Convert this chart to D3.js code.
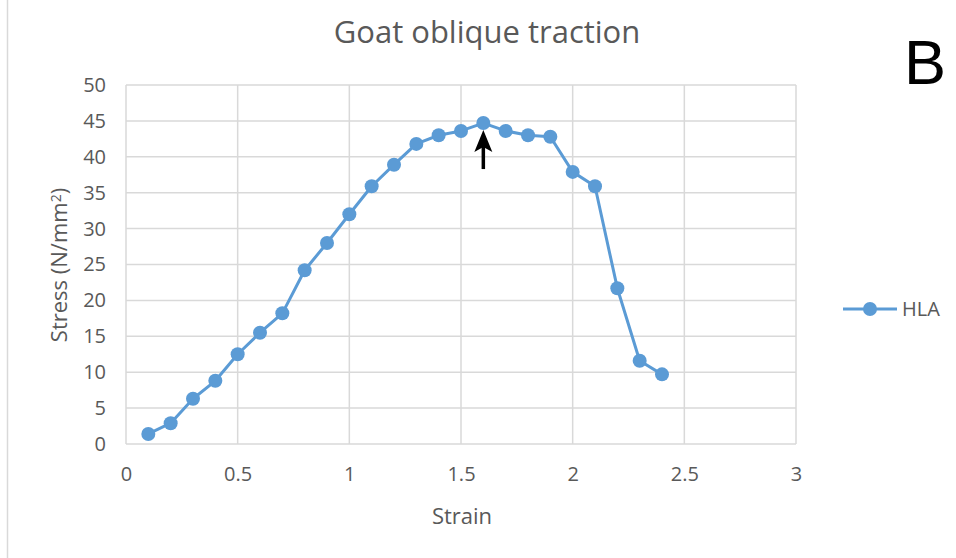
<!DOCTYPE html>
<html lang="en">
<head>
    <meta charset="UTF-8">
    <title>Goat oblique traction</title>
    <script src="https://d3js.org/d3.v7.min.js"></script>
    <style>
        body { margin: 0; background: #fff; }
        text { font-family: "Open Sans", "Noto Sans", sans-serif; }
    </style>
</head>
<body>
<svg width="956" height="558"></svg>
<script>
    // data
    const strain = [0.1, 0.2, 0.3, 0.4, 0.5, 0.6, 0.7, 0.8, 0.9, 1.0, 1.1, 1.2,
                    1.3, 1.4, 1.5, 1.6, 1.7, 1.8, 1.9, 2.0, 2.1, 2.2, 2.3, 2.4];
    const stress = [1.4, 2.9, 6.3, 8.8, 12.5, 15.5, 18.2, 24.2, 28.0, 32.0, 35.9, 38.9,
                    41.8, 43.0, 43.6, 44.7, 43.6, 43.0, 42.8, 37.9, 35.9, 21.7, 11.6, 9.7];
    const xTicks = [0, 0.5, 1, 1.5, 2, 2.5, 3];
    const yTicks = [0, 5, 10, 15, 20, 25, 30, 35, 40, 45, 50];
    const peakStrain = 1.6;
    const seriesName = "HLA";

    const svg = d3.select("svg");
    const blue = "#5b9bd5";
    const grid = "#d9d9d9";
    const tickCol = "#595959";

    const x = d3.scaleLinear().domain([0, 3]).range([126, 796]);
    const y = d3.scaleLinear().domain([0, 50]).range([444, 85]);

    // left frame line
    svg.append("line").attr("x1", 7.5).attr("x2", 7.5).attr("y1", 0).attr("y2", 558)
        .attr("stroke", "#d9d9d9").attr("stroke-width", 1.5);

    // gridlines
    svg.append("g").selectAll("line").data(yTicks).enter().append("line")
        .attr("x1", x(0)).attr("x2", x(3))
        .attr("y1", d => y(d)).attr("y2", d => y(d))
        .attr("stroke", grid).attr("stroke-width", 1.5);
    svg.append("g").selectAll("line").data(xTicks).enter().append("line")
        .attr("x1", d => x(d)).attr("x2", d => x(d))
        .attr("y1", y(0)).attr("y2", y(50))
        .attr("stroke", grid).attr("stroke-width", 1.5);

    // axes (labels only)
    const xAxis = svg.append("g").attr("transform", `translate(0,${y(0)})`)
        .call(d3.axisBottom(x).tickValues(xTicks).tickSize(0).tickPadding(23).tickFormat(d3.format("")));
    const yAxis = svg.append("g").attr("transform", `translate(${x(0)},0)`)
        .call(d3.axisLeft(y).tickValues(yTicks).tickSize(0).tickPadding(20));
    [xAxis, yAxis].forEach(a => {
        a.select(".domain").remove();
        a.selectAll("text").attr("fill", tickCol).style("font-size", "20px")
            .style("font-family", "'Open Sans', sans-serif");
    });

    // titles
    svg.append("text").attr("x", 487).attr("y", 43).attr("text-anchor", "middle")
        .attr("fill", tickCol).style("font-size", "31px").text("Goat oblique traction");
    svg.append("text").attr("x", 925).attr("y", 84).attr("text-anchor", "middle")
        .attr("fill", "#000").style("font-size", "63px").style("font-family", "'Liberation Sans', sans-serif")
        .text("B");
    svg.append("text").attr("x", 462).attr("y", 524).attr("text-anchor", "middle")
        .attr("fill", tickCol).style("font-size", "22px").text("Strain");
    const yl = svg.append("text").attr("transform", "translate(67,265) rotate(-90)")
        .attr("text-anchor", "middle").attr("fill", tickCol).style("font-size", "22px");
    yl.append("tspan").text("Stress (N/mm");
    yl.append("tspan").attr("dy", "-0.45em").style("font-size", "14px").text("2");
    yl.append("tspan").attr("dy", "0.3em").text(")");

    // series
    const pts = strain.map((s, i) => [s, stress[i]]);
    svg.append("path").datum(pts)
        .attr("d", d3.line().x(d => x(d[0])).y(d => y(d[1])))
        .attr("fill", "none").attr("stroke", blue).attr("stroke-width", 3)
        .attr("stroke-linejoin", "round");
    svg.append("g").selectAll("circle").data(pts).enter().append("circle")
        .attr("cx", d => x(d[0])).attr("cy", d => y(d[1])).attr("r", 7)
        .attr("fill", blue);

    // arrow pointing to peak
    const peakIdx = strain.indexOf(peakStrain);
    const ax = x(peakStrain), atop = y(stress[peakIdx]) + 7;
    svg.append("line").attr("x1", ax).attr("x2", ax).attr("y1", atop + 15).attr("y2", atop + 39)
        .attr("stroke", "#000").attr("stroke-width", 3.5);
    svg.append("path")
        .attr("d", `M${ax},${atop} L${ax - 9},${atop + 22} L${ax},${atop + 17} L${ax + 9},${atop + 22} Z`)
        .attr("fill", "#000");

    // legend
    const lg = svg.append("g").attr("transform", "translate(843,309)");
    lg.append("line").attr("x1", 0).attr("x2", 54).attr("stroke", blue).attr("stroke-width", 3);
    lg.append("circle").attr("cx", 27).attr("r", 7).attr("fill", blue);
    lg.append("text").attr("x", 59).attr("dy", "0.35em").attr("fill", tickCol)
        .style("font-size", "20px").text(seriesName);
</script>
</body>
</html>
